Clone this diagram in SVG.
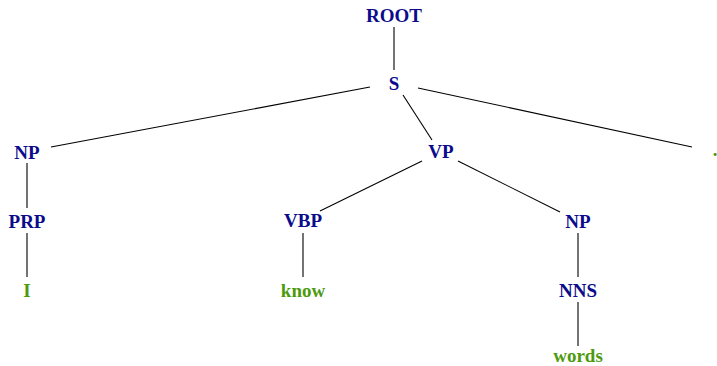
<svg xmlns="http://www.w3.org/2000/svg" width="717" height="366" viewBox="0 0 717 366">
  <style>
    text { font-family: "Liberation Serif", "Times New Roman", serif; font-weight: bold; font-size: 19px; text-anchor: middle; }
    .cat { fill: #0b0b8c; }
    .word { fill: #4e9a0e; }
    .edge { stroke: #000; stroke-width: 1.1; fill: none; }
  </style>
  <rect width="717" height="366" fill="#fff"/>
  <g id="connectors">
    <line class="edge" x1="394" y1="27" x2="394" y2="70"/>
    <line class="edge" x1="370" y1="87" x2="51" y2="147"/>
    <line class="edge" x1="403" y1="95" x2="432" y2="140"/>
    <line class="edge" x1="418" y1="88" x2="692" y2="147"/>
    <line class="edge" x1="27" y1="163" x2="27" y2="208"/>
    <line class="edge" x1="27" y1="233" x2="27" y2="277"/>
    <line class="edge" x1="422" y1="161" x2="320" y2="211"/>
    <line class="edge" x1="458" y1="161" x2="560" y2="212"/>
    <line class="edge" x1="303" y1="233" x2="303" y2="277"/>
    <line class="edge" x1="578" y1="233" x2="578" y2="277"/>
    <line class="edge" x1="578" y1="302" x2="578" y2="346"/>
  </g>
  <g id="node-root"><text class="cat" x="394" y="22">ROOT</text></g>
  <g id="node-s"><text class="cat" x="394" y="90">S</text></g>
  <g id="node-np1"><text class="cat" x="27" y="159">NP</text></g>
  <g id="node-vp"><text class="cat" x="441" y="158">VP</text></g>
  <g id="node-period"><text class="word" x="715" y="156">.</text></g>
  <g id="node-prp"><text class="cat" x="27" y="228">PRP</text></g>
  <g id="node-vbp"><text class="cat" x="303" y="227">VBP</text></g>
  <g id="node-np2"><text class="cat" x="578" y="228">NP</text></g>
  <g id="node-i"><text class="word" x="27" y="297">I</text></g>
  <g id="node-know"><text class="word" x="303" y="297">know</text></g>
  <g id="node-nns"><text class="cat" x="578" y="297">NNS</text></g>
  <g id="node-words"><text class="word" x="578" y="362">words</text></g>
</svg>
